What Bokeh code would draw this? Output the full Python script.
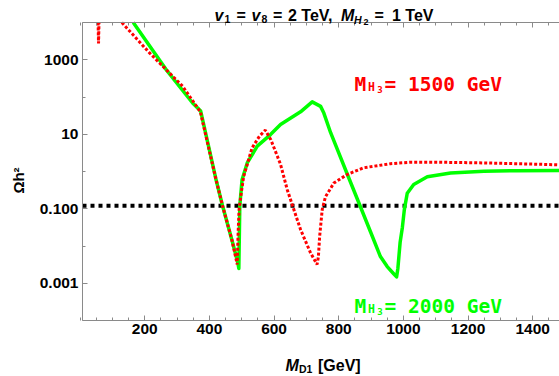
import math
from bokeh.plotting import figure
from bokeh.models import (FixedTicker, LinearAxis, LogAxis, Label, CustomJSTickFormatter)
from bokeh.embed import file_html
from bokeh.resources import INLINE

# ---------------- data ----------------
green_m = [140, 162, 265, 348, 373, 420, 440, 470, 488, 491, 494, 501, 517, 548, 589,
           620, 682, 718, 744, 754, 775, 826, 865, 898, 929, 950, 970, 979, 983, 990,
           997, 1003, 1012, 1032, 1074, 1146, 1249, 1350, 1483]
green_omega = [20000, 10700, 562, 69, 42, 0.63, 0.126, 0.0141, 0.00355, 0.0025, 0.12, 0.60,
               1.7, 4.8, 9.8, 18.2, 40, 74, 56, 37, 11, 0.87, 0.126, 0.0245, 0.0052, 0.0028,
               0.0018, 0.00148, 0.0025, 0.0126, 0.032, 0.095, 0.26, 0.45, 0.72, 0.91, 1.01,
               1.05, 1.07]

red_m = [54, 57, 60, 110, 126, 214, 317, 372, 420, 440, 470, 486, 489, 492, 498, 506, 532,
         555, 573, 590, 610, 620, 641, 656, 682, 713, 733, 737, 741, 749, 759, 785, 826,
         877, 960, 1022, 1100, 1250, 1400, 1483]
red_omega = [40000, 2750, 40000, 40000, 10700, 1550, 195, 40, 0.63, 0.126, 0.0141, 0.0032,
             0.025, 0.1, 0.25, 0.74, 4.3, 8.9, 12.9, 7.1, 2.6, 1.55, 0.32, 0.13, 0.0275,
             0.0065, 0.0032, 0.005, 0.018, 0.095, 0.21, 0.49, 0.83, 1.26, 1.62, 1.78, 1.78,
             1.7, 1.58, 1.51]

planck_omega = 0.12

x_ticks = [200, 400, 600, 800, 1000, 1200, 1400]
x_minor = list(range(0, 1501, 50))
y_ticks = [0.001, 0.1, 10, 1000]
y_tick_labels = ["0.001", "0.100", "10", "1000"]
y_minor = [1e-4, 1e-3, 1e-2, 1e-1, 1, 10, 100, 1000, 1e4]

label_red = "1500 GeV"
label_green = "2000 GeV"

# ---------------- layout geometry ----------------
W, H = 559, 376
X0, X1 = 7.4, 1483.0          # visible data range on x
Y0, Y1 = 1e-4, 1e4            # visible data range on y
FR_L, FR_T, FR_B = 82.0, 22.0, 320.0   # plot-box edges in pixels
GRAY = "#8a8a8a"
FONT = "Liberation Sans"
MONO = "DejaVu Sans Mono"

sx = (X1 - X0) / (W - FR_L)
XL = X0 - FR_L * sx
sy = (math.log10(Y1) - math.log10(Y0)) / (FR_B - FR_T)
LT = math.log10(Y1) + FR_T * sy
LB = math.log10(Y0) - (H - FR_B) * sy

p = figure(width=W, height=H, y_axis_type="log", x_range=(XL, X1),
           y_range=(10 ** LB, 10 ** LT), output_backend="svg", toolbar_location=None,
           title=None, x_axis_location=None, y_axis_location=None,
           min_border_left=0, min_border_right=0, min_border_top=0, min_border_bottom=0)
p.outline_line_color = None
p.background_fill_color = "white"
p.border_fill_color = "white"
p.xgrid.visible = False
p.ygrid.visible = False


def style_axis(ax):
    ax.axis_line_color = GRAY
    ax.major_tick_line_color = GRAY
    ax.minor_tick_line_color = GRAY
    ax.major_tick_in = 5
    ax.major_tick_out = 0
    ax.minor_tick_in = 3
    ax.minor_tick_out = 0
    ax.major_label_text_font = FONT
    ax.major_label_text_font_style = "bold"
    ax.major_label_text_font_size = "15.5px"
    ax.major_label_text_color = "black"
    ax.major_label_standoff = 3


bottom = LinearAxis(ticker=FixedTicker(ticks=x_ticks, minor_ticks=x_minor),
                    fixed_location=Y0, bounds=(X0, X1))
style_axis(bottom)
p.add_layout(bottom, "below")

top = LinearAxis(ticker=FixedTicker(ticks=x_ticks, minor_ticks=x_minor),
                 formatter=CustomJSTickFormatter(code="return '';"),
                 fixed_location=Y1, bounds=(X0, X1))
style_axis(top)
top.major_label_standoff = 0
p.add_layout(top, "above")

left = LogAxis(ticker=FixedTicker(ticks=y_ticks, minor_ticks=y_minor),
               fixed_location=X0, bounds=(Y0, Y1))
left.formatter = CustomJSTickFormatter(args=dict(tvals=y_ticks, tlabels=y_tick_labels), code="""
for (let i = 0; i < tvals.length; i++) {
  if (Math.abs(Math.log10(tick) - Math.log10(tvals[i])) < 0.01) return tlabels[i];
}
return '';
""")
style_axis(left)
left.major_label_standoff = 4
p.add_layout(left, "left")


# ---------------- clip curves to the visible box (log-linear interpolation) ----------------
def clip_top(xs, ys, top=Y1):
    lt = math.log10(top)
    ox, oy = [], []
    for i in range(len(xs)):
        inside = ys[i] <= top
        if i > 0:
            prev_in = ys[i - 1] <= top
            if inside != prev_in:
                l0, l1 = math.log10(ys[i - 1]), math.log10(ys[i])
                t = (lt - l0) / (l1 - l0)
                ox.append(xs[i - 1] + t * (xs[i] - xs[i - 1]))
                oy.append(top)
                if not inside:
                    ox.append(float("nan"))
                    oy.append(float("nan"))
        if inside:
            ox.append(xs[i])
            oy.append(ys[i])
    return ox, oy


gx, gy = clip_top(green_m, green_omega)
rx, ry = clip_top(red_m, red_omega)

# ---------------- glyphs ----------------
p.line([X0, X1], [planck_omega, planck_omega], line_color="black", line_width=4,
       line_dash="4 4")
p.line(gx, gy, line_color="#00ff00", line_width=3.5, line_join="round")
p.line(rx, ry, line_color="#ff0000", line_width=3, line_dash="3 2")


# ---------------- texts ----------------
def to_data(px, py):
    return XL + px * sx, 10 ** (LT - py * sy)


def lab(text, px, py, size, color="black", font=FONT, style="bold", angle=0,
        align="left", baseline="alphabetic"):
    dx, dy = to_data(px, py)
    p.add_layout(Label(x=dx, y=dy, text=text, text_font_size=f"{size}px", text_font=font,
                       text_font_style=style, text_color=color, text_align=align,
                       text_baseline=baseline, angle=angle))


# title: v1 = v8 = 2 TeV, M_H2 = 1 TeV
lab("v", 214, 15, 16, style="bold italic")
lab("1", 224, 18, 10.5)
lab("=", 236, 15, 16)
lab("v", 251, 15, 16, style="bold italic")
lab("8", 261, 18, 10.5)
lab("=", 272.5, 15, 16)
lab("2 TeV,", 287.5, 15, 16)
lab("M", 340.5, 15, 16, style="bold italic")
lab("H", 353.5, 19.3, 10.5, style="bold italic")
lab("2", 363, 21.5, 9)
lab("=", 374, 15, 16)
lab("1 TeV", 391.5, 15, 16)

# axis labels
lab("M", 285, 365, 16, style="bold italic")
lab("D1", 298.5, 368, 10.5)
lab("[GeV]", 317.5, 365, 16)
lab("\u03a9h\u00b2", 18, 180, 15, angle=math.pi / 2, align="center", baseline="middle")

# curve annotations
for txt, base, col in [(label_red, 84, "#ff0000"), (label_green, 306, "#00ff00")]:
    lab("M", 354, base, 19.5, color=col, font=MONO)
    lab("H", 367.5, base + 2.7, 11.5, color=col, font=MONO)
    lab("3", 376.8, base + 5.3, 9, color=col, font=MONO)
    lab("= " + txt, 384, base, 19.5, color=col, font=MONO)

open("out.html", "w").write(file_html(p, INLINE))
